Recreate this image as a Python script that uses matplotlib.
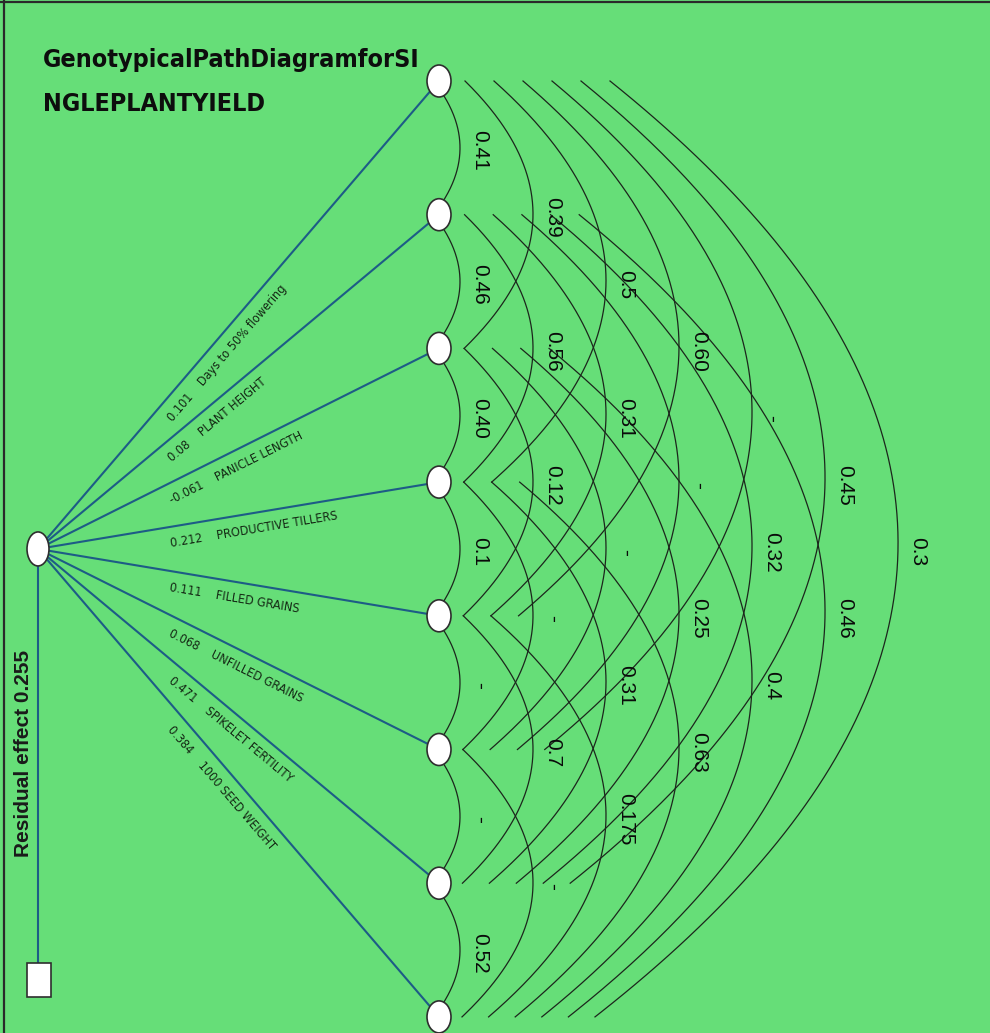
import os
import numpy as np
import matplotlib
matplotlib.use("Agg")
import matplotlib.pyplot as plt
from matplotlib.patches import Ellipse, Rectangle
from matplotlib import font_manager
from matplotlib.font_manager import FontProperties

# ---------------- data ----------------
title_lines = ["GenotypicalPathDiagramforSI", "NGLEPLANTYIELD"]
traits = ["Days to 50% flowering", "PLANT HEIGHT", "PANICLE LENGTH",
          "PRODUCTIVE TILLERS", "FILLED GRAINS", "UNFILLED GRAINS",
          "SPIKELET FERTILITY", "1000 SEED WEIGHT"]
direct_effects = ["0.101", "0.08", "-0.061", "0.212", "0.111", "0.068",
                  "0.471", "0.384"]
residual_effect = "0.255"
# genotypic correlations between traits i and i+span
corr_span1 = ["0.41", "0.46", "0.40", "0.1", "-", "-", "0.52"]
corr_span2 = ["0.39", "0.56", "0.12", "-", "0.7", "-"]
corr_span3 = ["0.5", "0.31", "-", "0.31", "0.175"]
corr_span4 = ["0.60", "-", "0.25", "0.63"]
corr_span5 = ["-", "0.32", "0.4"]
corr_span6 = ["0.45", "0.46"]
corr_span7 = ["0.3"]
correlations = [corr_span1, corr_span2, corr_span3, corr_span4,
                corr_span5, corr_span6, corr_span7]

# ---------------- style ----------------
BG = "#66DE78"
BLUE = "#1d5c86"
ARC = "#1c261c"
EDGE = "#2e2e2e"

files = {os.path.basename(f.fname).lower(): f.fname
         for f in font_manager.fontManager.ttflist}
names = {f.name for f in font_manager.fontManager.ttflist}
REG = "Liberation Sans" if "Liberation Sans" in names else "DejaVu Sans"


def pick(cands, fallback_weight):
    for c in cands:
        for ext in (".ttf", ".otf"):
            if c + ext in files:
                return FontProperties(fname=files[c + ext])
    return FontProperties(family=REG, weight=fallback_weight)


title_font = pick(["notosans-extracondensedbold", "liberationsansnarrow-bold",
                   "notosans-condensedbold", "dejavusanscondensed-bold",
                   "notosans-semicondensedbold"], "bold")
label_font = pick(["liberationsansnarrow-regular", "notosans-condensed",
                   "dejavusanscondensed", "notosans-semicondensed"], "normal")

W, H = 990, 1033
fig = plt.figure(figsize=(W / 100, H / 100), dpi=100)
fig.patch.set_facecolor(BG)
ax = fig.add_axes([0, 0, 1, 1])
ax.set_facecolor(BG)
ax.set_xlim(0, W)
ax.set_ylim(H, 0)
ax.axis("off")
renderer = fig.canvas.get_renderer()


def fit_size(text, prop, target_px, start=20.0, max_size=None):
    p = prop.copy()
    p.set_size(start)
    t = ax.text(0, 0, text, fontproperties=p)
    w = t.get_window_extent(renderer).width
    t.remove()
    s = start * target_px / w
    return min(s, max_size) if max_size else s


# frame (top and left)
ax.plot([4, 4], [0, H], color="#2a2a2a", lw=1.6, zorder=10)
ax.plot([0, W], [1.5, 1.5], color="#2a2a2a", lw=1.6, zorder=10)

# ---------------- geometry ----------------
n = len(traits)
node_x = 439
node_y = 81 + 133.7 * np.arange(n)
src_x, src_y = 38, node_y.mean()


def start_x(k, y):
    f = (y - node_y[0]) / (node_y[-1] - node_y[0])
    return 465 - 3 * f + (29 - 2.4 * f) * (k - 2)


# correlation arcs
tt = np.linspace(0, 1, 200)
for k, labels in enumerate(correlations, start=1):
    xa = 460 + 73 * (k - 1)
    for i, lab in enumerate(labels):
        j = i + k
        y1, y2 = node_y[i], node_y[j]
        ym = (y1 + y2) / 2
        if k == 1:
            x1 = x2 = 444
            y1, y2 = y1 + 15, y2 - 15
        else:
            x1, x2 = start_x(k, y1), start_x(k, y2)
        cx = 2 * xa - (x1 + x2) / 2
        xs = (1 - tt) ** 2 * x1 + 2 * tt * (1 - tt) * cx + tt ** 2 * x2
        ys = (1 - tt) ** 2 * y1 + 2 * tt * (1 - tt) * ym + tt ** 2 * y2
        ax.plot(xs, ys, color=ARC, lw=0.9, zorder=3)
        ax.text(xa + 20, ym + 3, lab, rotation=270, rotation_mode="anchor",
                ha="center", va="center", fontsize=15, family=REG,
                color="#0a0a0a", zorder=6)

# direct-effect lines and labels
lab_texts = [f"{direct_effects[i]}    {traits[i]}" for i in range(n)]
lab_size = fit_size(lab_texts[3], label_font, 170, max_size=11)
lp = label_font.copy()
lp.set_size(lab_size)
for i in range(n):
    ax.plot([src_x, node_x], [src_y, node_y[i]], color=BLUE, lw=1.5, zorder=2)
    dx, dy = node_x - src_x, node_y[i] - src_y
    L = np.hypot(dx, dy)
    ux, uy = dx / L, dy / L
    nx, ny = -uy, ux
    if ny < 0:
        nx, ny = -nx, -ny
    d = 16
    s = (170 - src_x - d * nx) / ux
    px = src_x + d * nx + s * ux
    py = src_y + d * ny + s * uy
    ang = np.degrees(np.arctan2(-dy, dx))
    ax.text(px, py, lab_texts[i], rotation=ang, rotation_mode="anchor",
            ha="left", va="center", fontproperties=lp,
            color="#142814", zorder=6)

# nodes
for y in node_y:
    ax.add_patch(Ellipse((node_x, y), 24, 32, facecolor="white",
                         edgecolor=EDGE, lw=1.2, zorder=5))
ax.add_patch(Ellipse((src_x, src_y), 22, 34, facecolor="white",
                     edgecolor=EDGE, lw=1.2, zorder=5))

# residual
ax.plot([src_x, src_x], [src_y, 963], color=BLUE, lw=1.5, zorder=2)
ax.add_patch(Rectangle((27, 963), 24, 34, facecolor="white",
                       edgecolor=EDGE, lw=1.2, zorder=5))
ax.text(24, 753, f"Residual effect {residual_effect}", rotation=90,
        rotation_mode="anchor", ha="center", va="center", fontsize=15,
        family=REG, weight="bold", color="#1a1a1a", zorder=6)

# title
tsize = fit_size(title_lines[0], title_font, 378, max_size=34)
tp = title_font.copy()
tp.set_size(tsize)
ax.text(43, 67, title_lines[0], fontproperties=tp,
        ha="left", va="baseline", color="#0d0d0d", zorder=6)
ax.text(43, 111, title_lines[1], fontproperties=tp,
        ha="left", va="baseline", color="#0d0d0d", zorder=6)

fig.savefig("out.png", dpi=100, facecolor=BG)
